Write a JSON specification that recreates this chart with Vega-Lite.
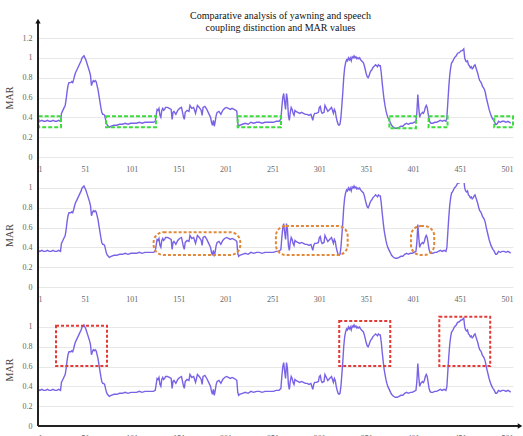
{
  "$schema": "https://vega.github.io/schema/vega-lite/v6.json",
  "padding": {"left": 4, "top": 10, "right": 5, "bottom": 0},
  "background": "white",
  "spacing": 26,
  "bounds": "flush",
  "datasets": {
    "mar": [
      {"x":1,"y":0.37},{"x":3,"y":0.36},{"x":5,"y":0.37},{"x":7,"y":0.36},{"x":9,"y":0.36},{"x":11,"y":0.37},{"x":13,"y":0.36},{"x":15,"y":0.36},{"x":17,"y":0.37},{"x":19,"y":0.36},{"x":21,"y":0.36},{"x":23,"y":0.37},{"x":25,"y":0.36},
      {"x":26,"y":0.44},{"x":27,"y":0.46},{"x":28,"y":0.48},{"x":29,"y":0.5},{"x":30,"y":0.52},{"x":31,"y":0.58},{"x":32,"y":0.66},{"x":33,"y":0.72},{"x":34,"y":0.75},{"x":35,"y":0.75},{"x":36,"y":0.75},{"x":37,"y":0.76},{"x":38,"y":0.75},{"x":39,"y":0.78},{"x":40,"y":0.82},{"x":41,"y":0.85},{"x":42,"y":0.87},{"x":43,"y":0.89},{"x":44,"y":0.91},{"x":45,"y":0.93},{"x":46,"y":0.95},{"x":47,"y":0.97},{"x":48,"y":1.0},{"x":49,"y":1.01},{"x":50,"y":1.02},{"x":51,"y":1.0},{"x":52,"y":0.98},{"x":53,"y":0.95},{"x":54,"y":0.92},{"x":55,"y":0.89},{"x":56,"y":0.86},{"x":57,"y":0.82},{"x":58,"y":0.72},{"x":59,"y":0.75},{"x":60,"y":0.77},{"x":61,"y":0.76},{"x":62,"y":0.77},{"x":63,"y":0.76},{"x":64,"y":0.72},{"x":65,"y":0.68},{"x":66,"y":0.62},{"x":67,"y":0.56},{"x":68,"y":0.5},{"x":69,"y":0.45},{"x":70,"y":0.43},{"x":71,"y":0.43},{"x":72,"y":0.42},{"x":73,"y":0.38},{"x":74,"y":0.34},{"x":75,"y":0.32},{"x":76,"y":0.31},{"x":77,"y":0.3},{"x":79,"y":0.31},{"x":82,"y":0.32},{"x":85,"y":0.32},{"x":88,"y":0.33},{"x":91,"y":0.33},{"x":94,"y":0.34},{"x":97,"y":0.33},{"x":100,"y":0.34},{"x":103,"y":0.34},{"x":106,"y":0.34},{"x":109,"y":0.35},{"x":112,"y":0.34},{"x":115,"y":0.35},{"x":118,"y":0.35},{"x":121,"y":0.35},{"x":124,"y":0.35},{"x":126,"y":0.36},
      {"x":127,"y":0.42},{"x":128,"y":0.48},{"x":129,"y":0.47},{"x":130,"y":0.49},{"x":131,"y":0.42},{"x":132,"y":0.4},{"x":133,"y":0.47},{"x":134,"y":0.49},{"x":135,"y":0.47},{"x":136,"y":0.48},{"x":137,"y":0.5},{"x":139,"y":0.5},{"x":141,"y":0.49},{"x":143,"y":0.48},{"x":144,"y":0.38},{"x":145,"y":0.45},{"x":146,"y":0.46},{"x":148,"y":0.43},{"x":150,"y":0.47},{"x":152,"y":0.49},{"x":154,"y":0.5},{"x":156,"y":0.41},{"x":157,"y":0.38},{"x":158,"y":0.45},{"x":160,"y":0.47},{"x":162,"y":0.46},{"x":163,"y":0.52},{"x":165,"y":0.49},{"x":167,"y":0.5},{"x":169,"y":0.44},{"x":171,"y":0.52},{"x":173,"y":0.5},{"x":175,"y":0.47},{"x":176,"y":0.42},{"x":177,"y":0.5},{"x":179,"y":0.51},{"x":181,"y":0.48},{"x":183,"y":0.44},{"x":185,"y":0.4},{"x":186,"y":0.35},{"x":187,"y":0.32},{"x":188,"y":0.37},{"x":189,"y":0.31},{"x":190,"y":0.36},{"x":191,"y":0.42},{"x":192,"y":0.45},{"x":194,"y":0.46},{"x":196,"y":0.43},{"x":198,"y":0.47},{"x":200,"y":0.49},{"x":202,"y":0.5},{"x":204,"y":0.49},{"x":206,"y":0.48},{"x":208,"y":0.49},{"x":210,"y":0.48},{"x":212,"y":0.47},{"x":213,"y":0.46},
      {"x":214,"y":0.34},{"x":215,"y":0.31},{"x":216,"y":0.32},{"x":219,"y":0.33},{"x":222,"y":0.34},{"x":225,"y":0.33},{"x":228,"y":0.35},{"x":231,"y":0.34},{"x":234,"y":0.35},{"x":237,"y":0.35},{"x":240,"y":0.34},{"x":243,"y":0.35},{"x":246,"y":0.35},{"x":249,"y":0.35},{"x":252,"y":0.35},{"x":255,"y":0.36},{"x":258,"y":0.36},{"x":260,"y":0.38},
      {"x":261,"y":0.5},{"x":262,"y":0.6},{"x":263,"y":0.64},{"x":264,"y":0.55},{"x":265,"y":0.48},{"x":266,"y":0.64},{"x":267,"y":0.58},{"x":268,"y":0.42},{"x":269,"y":0.37},{"x":270,"y":0.45},{"x":271,"y":0.5},{"x":272,"y":0.48},{"x":273,"y":0.44},{"x":274,"y":0.42},{"x":275,"y":0.47},{"x":276,"y":0.46},{"x":278,"y":0.45},{"x":280,"y":0.44},{"x":282,"y":0.45},{"x":284,"y":0.44},{"x":286,"y":0.43},{"x":288,"y":0.43},{"x":290,"y":0.42},{"x":292,"y":0.43},{"x":294,"y":0.37},{"x":295,"y":0.42},{"x":296,"y":0.44},{"x":298,"y":0.44},{"x":300,"y":0.45},{"x":301,"y":0.5},{"x":302,"y":0.51},{"x":303,"y":0.46},{"x":304,"y":0.44},{"x":306,"y":0.45},{"x":307,"y":0.52},{"x":308,"y":0.5},{"x":310,"y":0.46},{"x":312,"y":0.48},{"x":314,"y":0.5},{"x":315,"y":0.47},{"x":316,"y":0.44},{"x":317,"y":0.48},{"x":318,"y":0.46},{"x":319,"y":0.4},{"x":320,"y":0.36},{"x":321,"y":0.33},{"x":322,"y":0.32},{"x":323,"y":0.33},
      {"x":324,"y":0.4},{"x":325,"y":0.52},{"x":326,"y":0.65},{"x":327,"y":0.8},{"x":328,"y":0.9},{"x":329,"y":0.95},{"x":330,"y":0.98},{"x":331,"y":0.97},{"x":332,"y":1.0},{"x":333,"y":0.98},{"x":334,"y":1.0},{"x":335,"y":0.97},{"x":336,"y":1.01},{"x":337,"y":1.0},{"x":338,"y":1.02},{"x":339,"y":1.0},{"x":340,"y":1.01},{"x":341,"y":0.99},{"x":342,"y":1.0},{"x":343,"y":0.99},{"x":344,"y":1.0},{"x":345,"y":0.98},{"x":346,"y":0.97},{"x":347,"y":0.96},{"x":348,"y":0.95},{"x":349,"y":0.92},{"x":350,"y":0.88},{"x":351,"y":0.84},{"x":352,"y":0.81},{"x":353,"y":0.8},{"x":354,"y":0.82},{"x":355,"y":0.85},{"x":356,"y":0.87},{"x":357,"y":0.88},{"x":358,"y":0.9},{"x":359,"y":0.91},{"x":360,"y":0.92},{"x":361,"y":0.93},{"x":362,"y":0.92},{"x":363,"y":0.91},{"x":364,"y":0.93},{"x":365,"y":0.92},{"x":366,"y":0.92},{"x":367,"y":0.85},{"x":368,"y":0.75},{"x":369,"y":0.66},{"x":370,"y":0.58},{"x":371,"y":0.52},{"x":372,"y":0.47},{"x":373,"y":0.43},{"x":374,"y":0.4},{"x":375,"y":0.38},{"x":376,"y":0.36},{"x":377,"y":0.34},{"x":378,"y":0.32},{"x":380,"y":0.3},{"x":382,"y":0.29},{"x":384,"y":0.29},{"x":386,"y":0.3},{"x":388,"y":0.31},{"x":390,"y":0.31},{"x":392,"y":0.33},{"x":394,"y":0.34},{"x":396,"y":0.33},{"x":398,"y":0.34},{"x":400,"y":0.34},{"x":402,"y":0.35},{"x":404,"y":0.36},
      {"x":405,"y":0.45},{"x":406,"y":0.63},{"x":407,"y":0.5},{"x":408,"y":0.4},{"x":409,"y":0.43},{"x":410,"y":0.44},{"x":411,"y":0.45},{"x":412,"y":0.44},{"x":413,"y":0.46},{"x":414,"y":0.5},{"x":415,"y":0.52},{"x":416,"y":0.5},{"x":417,"y":0.44},{"x":418,"y":0.38},{"x":419,"y":0.35},{"x":420,"y":0.34},{"x":422,"y":0.34},{"x":424,"y":0.35},{"x":426,"y":0.35},{"x":428,"y":0.36},{"x":430,"y":0.37},{"x":432,"y":0.36},{"x":434,"y":0.37},{"x":436,"y":0.36},
      {"x":437,"y":0.4},{"x":438,"y":0.55},{"x":439,"y":0.7},{"x":440,"y":0.82},{"x":441,"y":0.9},{"x":442,"y":0.95},{"x":443,"y":0.96},{"x":444,"y":0.98},{"x":445,"y":1.0},{"x":446,"y":1.01},{"x":447,"y":1.02},{"x":448,"y":1.04},{"x":449,"y":1.05},{"x":450,"y":1.05},{"x":451,"y":1.06},{"x":452,"y":1.07},{"x":453,"y":1.07},{"x":454,"y":1.08},{"x":455,"y":1.09},{"x":456,"y":1.0},{"x":457,"y":0.97},{"x":458,"y":0.96},{"x":459,"y":0.97},{"x":460,"y":0.93},{"x":461,"y":0.92},{"x":462,"y":0.9},{"x":463,"y":0.91},{"x":464,"y":0.89},{"x":465,"y":0.9},{"x":466,"y":0.92},{"x":467,"y":0.93},{"x":468,"y":0.9},{"x":469,"y":0.87},{"x":470,"y":0.84},{"x":471,"y":0.8},{"x":472,"y":0.77},{"x":473,"y":0.76},{"x":474,"y":0.74},{"x":475,"y":0.71},{"x":476,"y":0.7},{"x":477,"y":0.68},{"x":478,"y":0.65},{"x":479,"y":0.6},{"x":480,"y":0.56},{"x":481,"y":0.52},{"x":482,"y":0.48},{"x":483,"y":0.45},{"x":484,"y":0.42},{"x":485,"y":0.4},{"x":486,"y":0.38},{"x":487,"y":0.37},{"x":488,"y":0.35},{"x":489,"y":0.33},{"x":490,"y":0.33},{"x":491,"y":0.34},{"x":492,"y":0.36},{"x":494,"y":0.35},{"x":496,"y":0.36},{"x":498,"y":0.36},{"x":500,"y":0.35},{"x":502,"y":0.36},{"x":504,"y":0.35},{"x":505,"y":0.34}
    ],
    "green": [
      {"x":1.7,"x2":25.5,"y":0.3,"y2":0.41},
      {"x":73.5,"x2":126.8,"y":0.3,"y2":0.41},
      {"x":213.9,"x2":260.1,"y":0.3,"y2":0.41},
      {"x":375.6,"x2":404,"y":0.29,"y2":0.41},
      {"x":417.5,"x2":437.7,"y":0.3,"y2":0.41},
      {"x":487.5,"x2":507.5,"y":0.3,"y2":0.41}
    ],
    "orange": [
      {"x":124.3,"x2":216.7,"y":0.323,"y2":0.553},
      {"x":254.7,"x2":331.2,"y":0.323,"y2":0.616},
      {"x":398.7,"x2":423.5,"y":0.323,"y2":0.616}
    ],
    "red": [
      {"x":20.2,"x2":74.6,"y":0.606,"y2":1.013},
      {"x":322.2,"x2":376.6,"y":0.606,"y2":1.06},
      {"x":428.9,"x2":483.2,"y":0.606,"y2":1.104}
    ],
    "one": [{"k": 1}]
  },
  "config": {
    "view": {"stroke": null},
    "font": "Liberation Serif",
    "axis": {
      "labelFont": "Liberation Serif",
      "labelFontSize": 8,
      "labelColor": "#666666",
      "titleFont": "Liberation Serif",
      "titleFontWeight": "normal",
      "titleFontSize": 10,
      "titleColor": "#444444",
      "ticks": false,
      "domain": false,
      "labelOverlap": false,
      "tickCount": 20
    },
    "axisX": {"grid": false, "labelPadding": 8, "labelAngle": 0},
    "axisY": {"grid": true, "gridColor": "#e8e8e8", "labelPadding": 6, "titlePadding": 8}
  },
  "vconcat": [
    {
      "width": 475,
      "height": 119,
      "title": {
        "text": ["Comparative analysis of yawning and speech", "coupling distinction and MAR values"],
        "font": "Liberation Serif",
        "fontSize": 10,
        "fontWeight": "normal",
        "color": "#111111",
        "frame": "group",
        "anchor": "middle",
        "dx": 5,
        "offset": -14
      },
      "layer": [
        {
          "data": {"name": "mar"},
          "mark": {"type": "line", "color": "#7a62e6", "strokeWidth": 1.4},
          "encoding": {
            "x": {"field": "x", "type": "quantitative", "scale": {"domain": [1, 507.5], "nice": false}, "axis": {"values": [1,51,101,151,201,251,301,351,401,451,501], "title": null}},
            "y": {"field": "y", "type": "quantitative", "scale": {"domain": [0, 1.2], "nice": false}, "axis": {"values": [0,0.2,0.4,0.6,0.8,1,1.2], "labelExpr": "datum.value", "title": "MAR"}}
          }
        },
        {
          "data": {"name": "green"},
          "mark": {"type": "rect", "filled": false, "stroke": "#3ddc3d", "strokeWidth": 2, "strokeDash": [4, 2]},
          "encoding": {
            "x": {"field": "x", "type": "quantitative"},
            "x2": {"field": "x2"},
            "y": {"field": "y", "type": "quantitative"},
            "y2": {"field": "y2"}
          }
        },
        {
          "data": {"name": "one"},
          "mark": {"type": "rule", "color": "#222222", "strokeWidth": 2},
          "encoding": {
            "x": {"datum": 1},
            "y": {"datum": -0.27},
            "y2": {"datum": 1.37}
          }
        },
        {
          "data": {"name": "one"},
          "mark": {"type": "point", "shape": "triangle-up", "filled": true, "color": "#111111", "size": 28, "opacity": 1},
          "encoding": {
            "x": {"datum": 1},
            "y": {"datum": 1.37}
          }
        }
      ]
    },
    {
      "width": 475,
      "height": 104,
      "layer": [
        {
          "data": {"name": "mar"},
          "mark": {"type": "line", "color": "#7a62e6", "strokeWidth": 1.4, "clip": true},
          "encoding": {
            "x": {"field": "x", "type": "quantitative", "scale": {"domain": [1, 507.5], "nice": false}, "axis": {"values": [1,51,101,151,201,251,301,351,401,451,501], "title": null}},
            "y": {"field": "y", "type": "quantitative", "scale": {"domain": [0, 1.05], "nice": false}, "axis": {"values": [0,0.2,0.4,0.6,0.8,1], "labelExpr": "datum.value", "title": "MAR"}}
          }
        },
        {
          "data": {"name": "orange"},
          "mark": {"type": "rect", "filled": false, "stroke": "#e0893a", "strokeWidth": 2, "strokeDash": [3, 2], "cornerRadius": 10},
          "encoding": {
            "x": {"field": "x", "type": "quantitative"},
            "x2": {"field": "x2"},
            "y": {"field": "y", "type": "quantitative"},
            "y2": {"field": "y2"}
          }
        },
        {
          "data": {"name": "one"},
          "mark": {"type": "rule", "color": "#222222", "strokeWidth": 2},
          "encoding": {
            "x": {"datum": 1},
            "y": {"datum": -0.28},
            "y2": {"datum": 1.05}
          }
        }
      ]
    },
    {
      "width": 475,
      "height": 113,
      "layer": [
        {
          "data": {"name": "mar"},
          "mark": {"type": "line", "color": "#7a62e6", "strokeWidth": 1.4},
          "encoding": {
            "x": {"field": "x", "type": "quantitative", "scale": {"domain": [1, 507.5], "nice": false}, "axis": {"values": [1,51,101,151,201,251,301,351,401,451,501], "title": null}},
            "y": {"field": "y", "type": "quantitative", "scale": {"domain": [0, 1.141], "nice": false}, "axis": {"values": [0,0.2,0.4,0.6,0.8,1], "labelExpr": "datum.value", "title": "MAR"}}
          }
        },
        {
          "data": {"name": "red"},
          "mark": {"type": "rect", "filled": false, "stroke": "#e53935", "strokeWidth": 2, "strokeDash": [3, 2]},
          "encoding": {
            "x": {"field": "x", "type": "quantitative"},
            "x2": {"field": "x2"},
            "y": {"field": "y", "type": "quantitative"},
            "y2": {"field": "y2"}
          }
        },
        {
          "data": {"name": "one"},
          "mark": {"type": "rule", "color": "#222222", "strokeWidth": 2},
          "encoding": {
            "x": {"datum": 1},
            "y": {"datum": 0},
            "y2": {"datum": 1.141}
          }
        },
        {
          "data": {"name": "one"},
          "mark": {"type": "rule", "color": "#222222", "strokeWidth": 2},
          "encoding": {
            "x": {"datum": 1},
            "x2": {"datum": 514},
            "y": {"datum": 0}
          }
        },
        {
          "data": {"name": "one"},
          "mark": {"type": "point", "shape": "triangle-right", "filled": true, "color": "#111111", "size": 28, "opacity": 1},
          "encoding": {
            "x": {"datum": 515},
            "y": {"datum": 0}
          }
        }
      ]
    }
  ]
}
